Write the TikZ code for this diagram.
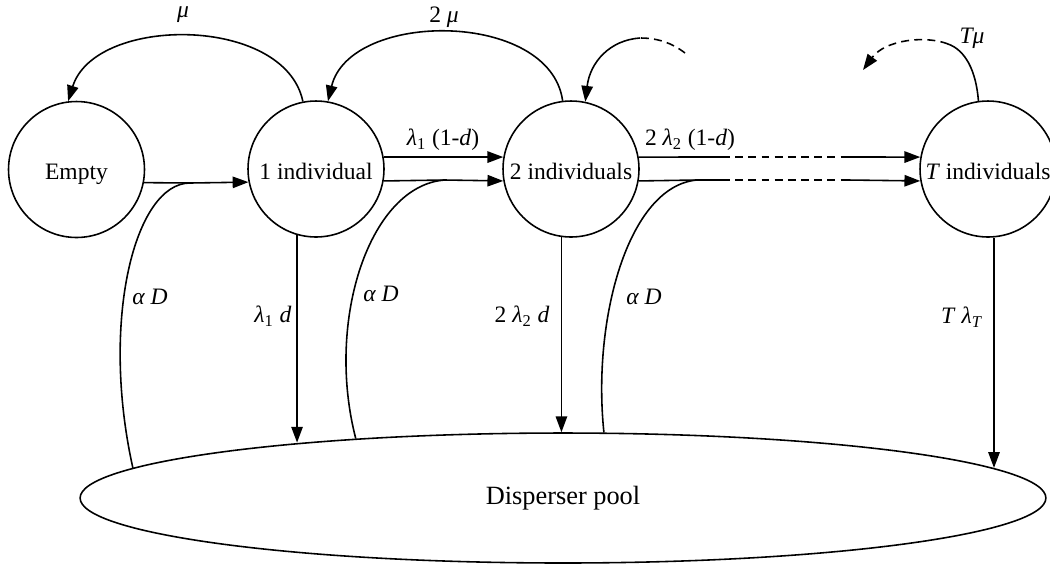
\documentclass[tikz,border=0pt]{standalone}
\usepackage{fontspec}
\setmainfont{Liberation Serif}
\usetikzlibrary{arrows.meta, shapes.geometric}
\newcommand{\lsub}[1]{\textit{λ}\textsubscript{#1}}

\begin{document}
\begin{tikzpicture}[x=0.02cm, y=-0.02cm,
        >={Triangle[length=9pt, width=6.5pt]},
        line width=0.9pt,
        every node/.style={font=\fontsize{13.4}{16}\selectfont},
        state/.style={draw, circle, minimum size=2.72cm, inner sep=0pt, text height=11.5pt, text depth=0pt},
        pool/.style={draw, ellipse, minimum width=19.32cm, minimum height=2.6cm, inner sep=0pt, font=\fontsize{15}{18}\selectfont},
        arr/.style={->},
        dashline/.style={dash pattern=on 4.5pt off 3pt},
        lbl/.style={inner sep=1pt},
    ]
    \useasboundingbox (0,0) rectangle (1050,566);
    % states
    \node[state] (empty) at (76.5,169.5) {Empty};
    \node[state] (one) at (316,169) {1 individual};
    \node[state] (two) at (571,169) {2 individuals};
    \node[state] (tee) at (988,169) {\textit{T} individuals};
    \node[pool] (pool) at (563,498) {Disperser pool};
    % horizontal transitions
    \coordinate (m1) at (190,183);
    \draw[arr] (empty.-11.7) -- (m1) -- (one.191.7);
    \coordinate (m2) at (445,180);
    \draw[arr] (one.10) -- (two.170);
    \draw[arr] (one.-10) -- (m2) -- (two.190);
    \coordinate (up1) at (722,157);
    \coordinate (up2) at (848,157);
    \coordinate (m3) at (697,180);
    \coordinate (lo1) at (722,180);
    \coordinate (lo2) at (848,180);
    \draw (two.10) -- (up1);
    \draw[dashline] (up1) -- (up2);
    \draw[arr] (up2) -- (tee.170);
    \draw (two.-10) -- (m3) -- (lo1);
    \draw[dashline] (lo1) -- (lo2);
    \draw[arr] (lo2) -- (tee.190);
    % returns from the pool
    \draw (pool.176.3) .. controls (100,320) and (135,183) .. (m1);
    \draw (pool.164.9) .. controls (325,320) and (370,185) .. (m2);
    \draw (pool.58.3) .. controls (592,320) and (628,186) .. (m3);
    % dispersal into the pool
    \draw[arr] (one.254.6) -- (one.254.6 |- pool.168.4);
    \draw[arr] (two.262.4) -- (two.262.4 |- pool.94.4);
    \draw[arr] (tee.275) -- (tee.275 |- pool.4);
    % deaths
    \draw[arr] (one.101.9) .. controls (285,15) and (95,15) .. (empty.97);
    \draw[arr] (two.97.6) .. controls (550,10) and (350,10) .. (one.80);
    \coordinate (in1) at (685,53);
    \coordinate (in2) at (640,38);
    \draw[dashline] (in1) .. controls (672,43) and (658,38) .. (in2);
    \draw[arr] (in2) .. controls (610,40) and (590,62) .. (two.78);
    \coordinate (out1) at (948,44);
    \coordinate (out2) at (863,70);
    \draw (tee.98.5) .. controls (976,70) and (965,50) .. (out1);
    \draw[arr, dashline] (out1) .. controls (925,35) and (885,40) .. (out2);
    % rates
    \node[lbl] (rmu) at (183,15) {\textit{μ}};
    \node[lbl] (rmutwo) at (444,17) {2 \textit{μ}};
    \node[lbl] (rmutee) at (972,38) {\textit{Tμ}};
    \node[lbl] (rbone) at (443,140) {\lsub{1} (1-\textit{d})};
    \node[lbl] (rbtwo) at (690,140) {2 \lsub{2} (1-\textit{d})};
    \node[lbl] (raone) at (150,297) {\textit{α D}};
    \node[lbl] (ratwo) at (381,294) {\textit{α D}};
    \node[lbl] (rathree) at (644,297) {\textit{α D}};
    \node[lbl] (rdone) at (273,316) {\lsub{1} \textit{d}};
    \node[lbl] (rdtwo) at (522,316) {2 \lsub{2} \textit{d}};
    \node[lbl] (rdtee) at (962,317) {\textit{T} \lsub{\textit{T}}};
\end{tikzpicture}
\end{document}
